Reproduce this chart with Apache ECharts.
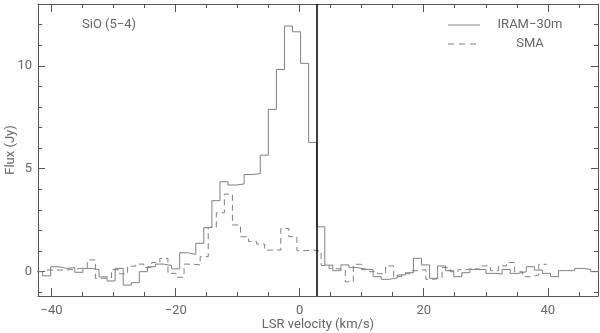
<!DOCTYPE html>
<html>
<head>
<meta charset="utf-8">
<script src="https://cdn.jsdelivr.net/npm/echarts@6/dist/echarts.min.js"></script>
<style>
  html, body { margin: 0; padding: 0; background: #fff; }
  #chart { width: 600px; height: 333px; }
</style>
</head>
<body>
<div id="chart"></div>
<script>
// channel centres (km/s) and fluxes (Jy)
const channelWidth = 1.3;
const velIram = [-42.11, -40.81, -39.51, -38.21, -36.91, -35.61, -34.31, -33.01, -31.71, -30.41,
  -29.11, -27.81, -26.51, -25.21, -23.91, -22.61, -21.31, -20.01, -18.71, -17.41,
  -16.11, -14.81, -13.51, -12.21, -10.91, -9.61, -8.31, -7.01, -5.71, -4.41,
  -3.11, -1.81, -0.51, 0.79, 2.09, 3.39, 4.69, 5.99, 7.29, 8.59,
  9.89, 11.19, 12.49, 13.79, 15.09, 16.39, 17.69, 18.99, 20.29, 21.59,
  22.89, 24.19, 25.49, 26.79, 28.09, 29.39, 30.69, 31.99, 33.29, 34.59,
  35.89, 37.19, 38.49, 39.79, 41.09, 42.39, 43.69, 44.99, 46.29, 47.59];
const fluxIram = [0.0, -0.2, 0.24, 0.16, 0.2, -0.03, 0.16, 0.1, -0.25, -0.45,
  0.16, -0.65, -0.53, 0.0, 0.24, 0.37, 0.3, 0.14, 0.92, 0.84,
  1.38, 2.14, 3.45, 4.37, 4.21, 4.26, 4.72, 4.76, 5.66, 7.88,
  9.82, 11.93, 11.65, 10.12, 6.28, 2.18, 0.32, 0.05, 0.33, 0.2,
  0.13, 0.1, -0.24, -0.37, -0.3, -0.16, -0.05, 0.65, 0.33, -0.32,
  0.28, 0.05, -0.24, -0.05, 0.11, 0.11, -0.08, -0.11, 0.11, -0.08,
  0.0, 0.24, 0.08, -0.08, -0.24, 0.05, 0.05, 0.16, 0.11, 0.0];

const velSma = [-40.1, -38.8, -37.5, -36.2, -34.9, -33.6, -32.3, -31.0, -29.7, -28.4,
  -27.1, -25.8, -24.5, -23.2, -21.9, -20.6, -19.3, -18.0, -16.7, -15.4,
  -14.1, -12.8, -11.5, -10.2, -8.9, -7.6, -6.3, -5.0, -3.7, -2.4,
  -1.1, 0.2, 1.5, 2.8, 4.1, 5.4, 6.7, 8.0, 9.3, 10.6,
  11.9, 13.2, 14.5, 15.8, 17.1, 18.4, 19.7, 21.0, 22.3, 23.6,
  24.9, 26.2, 27.5, 28.8, 30.1, 31.4, 32.7, 34.0, 35.3, 36.6,
  37.9, 39.2];
const fluxSma = [0.08, 0.08, 0.1, 0.15, 0.2, 0.57, -0.32, -0.3, 0.1, -0.1,
  0.27, 0.37, 0.2, 0.45, 0.65, -0.08, -0.27, 0.37, 0.33, 0.73,
  2.16, 2.86, 3.77, 2.27, 1.7, 1.46, 1.34, 1.05, 1.05, 2.1,
  1.7, 1.02, 1.05, 1.0, 0.3, 0.15, 0.1, -0.49, 0.36, 0.1,
  0.0, -0.1, 0.28, -0.24, -0.1, 0.05, 0.1, -0.37, -0.3, 0.2,
  0.0, 0.1, 0.16, 0.1, 0.28, 0.05, 0.28, 0.45, 0.0, -0.24,
  -0.16, 0.36];

const markerVelocity = 2.74;

const xMajorTicks = [-40, -20, 0, 20, 40];
const xMinorTicks = [-40, -35, -30, -25, -20, -15, -10, -5, 0, 5, 10, 15, 20, 25, 30, 35, 40, 45];
const yMajorTicks = [0, 5, 10];
const yMinorTicks = [-1, 0, 1, 2, 3, 4, 5, 6, 7, 8, 9, 10, 11, 12];

const xMin = -42.2, xMax = 48.1;
const yMin = -1.18, yMax = 13.0;

// histogram outline: left edge of every channel, plus closing right edge
function stepData(vel, flux) {
  const pts = vel.map((v, i) => [v - channelWidth / 2, flux[i]]);
  pts.push([vel[vel.length - 1] + channelWidth / 2, flux[flux.length - 1]]);
  return pts;
}

const frameColor = '#555';
const textColor = '#666';
const curveColor = '#808080';
const fontFamily = 'Roboto';
const minus = s => String(s).replace('-', '\u2212');

function xAxisDef(pos, ticks, len, withLabel) {
  return {
    type: 'value', min: xMin, max: xMax, position: pos,
    axisLine: { show: withLabel !== null, onZero: false, lineStyle: { color: frameColor, width: 1 } },
    axisTick: { show: true, inside: true, length: len, customValues: ticks, lineStyle: { color: frameColor } },
    axisLabel: withLabel ? {
      show: true, customValues: xMajorTicks, margin: 8, color: textColor,
      fontFamily: fontFamily, fontSize: 13, formatter: minus
    } : { show: false },
    splitLine: { show: false }
  };
}
function yAxisDef(pos, ticks, len, withLabel) {
  return {
    type: 'value', min: yMin, max: yMax, position: pos,
    axisLine: { show: withLabel !== null, onZero: false, lineStyle: { color: frameColor, width: 1 } },
    axisTick: { show: true, inside: true, length: len, customValues: ticks, lineStyle: { color: frameColor } },
    axisLabel: withLabel ? {
      show: true, customValues: yMajorTicks, margin: 6, color: textColor,
      fontFamily: fontFamily, fontSize: 13, formatter: minus
    } : { show: false },
    splitLine: { show: false }
  };
}

const bottomMajor = xAxisDef('bottom', xMajorTicks, 8, true);
bottomMajor.name = 'LSR velocity (km/s)';
bottomMajor.nameLocation = 'middle';
bottomMajor.nameGap = 22;
bottomMajor.nameMoveOverlap = false;
bottomMajor.nameTextStyle = { color: textColor, fontFamily: fontFamily, fontSize: 13 };

const leftMajor = yAxisDef('left', yMajorTicks, 7, true);
leftMajor.name = 'Flux (Jy)';
leftMajor.nameLocation = 'middle';
leftMajor.nameGap = 21;
leftMajor.nameMoveOverlap = false;
leftMajor.nameTextStyle = { color: textColor, fontFamily: fontFamily, fontSize: 13 };

const chart = echarts.init(document.getElementById('chart'));
chart.setOption({
  animation: false,
  backgroundColor: '#fff',
  grid: { left: 38, right: 2, top: 4, bottom: 37, containLabel: false, outerBoundsMode: 'none' },
  xAxis: [
    bottomMajor,
    xAxisDef('bottom', xMinorTicks, 4, null),
    xAxisDef('top', xMajorTicks, 8, false),
    xAxisDef('top', xMinorTicks, 4, null)
  ],
  yAxis: [
    leftMajor,
    yAxisDef('left', yMinorTicks, 4, null),
    yAxisDef('right', yMajorTicks, 7, false),
    yAxisDef('right', yMinorTicks, 4, null)
  ],
  series: [
    {
      name: 'IRAM\u221230m', type: 'line', step: 'end', xAxisIndex: 0, yAxisIndex: 0,
      showSymbol: false, symbol: 'none', silent: true,
      lineStyle: { color: curveColor, width: 1 },
      data: stepData(velIram, fluxIram),
      markLine: {
        silent: true, symbol: 'none', label: { show: false },
        lineStyle: { color: '#000', width: 1.5, type: 'solid' },
        data: [{ xAxis: markerVelocity }]
      }
    },
    {
      name: 'SMA', type: 'line', step: 'end', xAxisIndex: 0, yAxisIndex: 0,
      showSymbol: false, symbol: 'none', silent: true,
      lineStyle: { color: curveColor, width: 1, type: [6, 4] },
      data: stepData(velSma, fluxSma)
    }
  ],
  graphic: [
    { type: 'text', x: 82, y: 25, style: { text: 'SiO (5\u22124)', fill: textColor, font: '13px ' + fontFamily, verticalAlign: 'middle' } },
    { type: 'line', shape: { x1: 448, y1: 25, x2: 480, y2: 25 }, style: { stroke: curveColor, lineWidth: 1 } },
    { type: 'text', x: 530, y: 25, style: { text: 'IRAM\u221230m', fill: textColor, font: '13px ' + fontFamily, align: 'center', verticalAlign: 'middle' } },
    { type: 'line', shape: { x1: 448, y1: 44, x2: 480, y2: 44 }, style: { stroke: curveColor, lineWidth: 1, lineDash: [6, 5] } },
    { type: 'text', x: 530, y: 44, style: { text: 'SMA', fill: textColor, font: '13px ' + fontFamily, align: 'center', verticalAlign: 'middle' } }
  ]
});
</script>
</body>
</html>
